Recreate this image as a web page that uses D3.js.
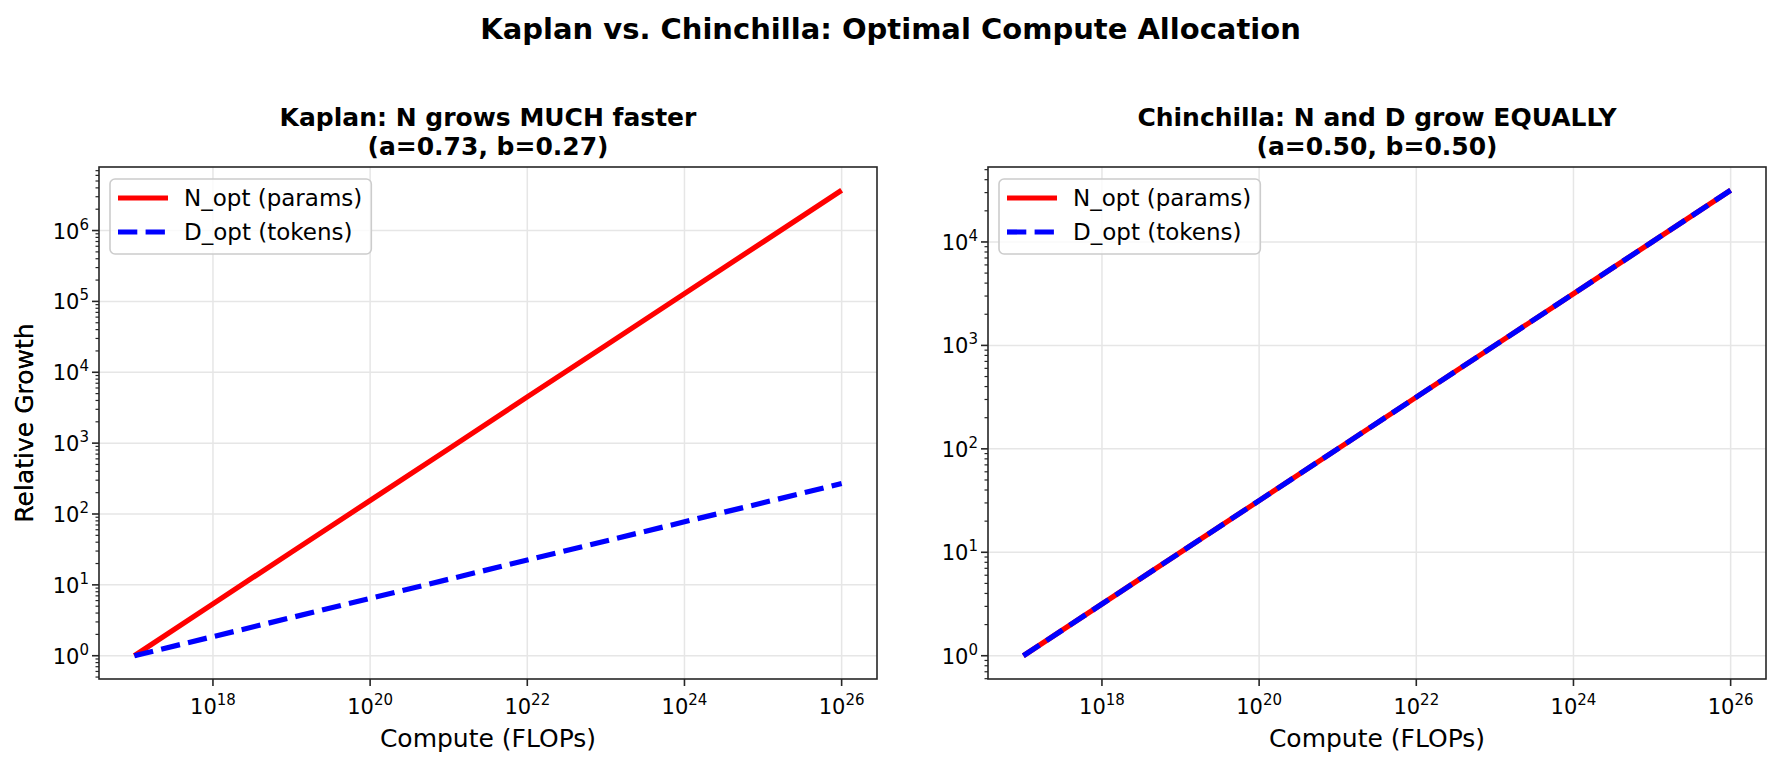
<!DOCTYPE html>
<html><head><meta charset="utf-8">
<script src="https://cdn.jsdelivr.net/npm/d3@7"></script>
<style>body{margin:0;background:#fff}svg{font-family:"DejaVu Sans",sans-serif}</style>
</head><body>
<svg id="c" width="1781" height="766"></svg>
<script>
// Data
const compute = [1e17,1e18,1e19,1e20,1e21,1e22,1e23,1e24,1e25,1e26];
const kaplanN = [1,5.4,29,155,830,4500,24000,129000,690000,3.7e6];
const kaplanD = [1,1.86,3.46,6.45,12,22.4,41.7,77.6,144,269];
const chinN = [1,3.16,10,31.6,100,316,1000,3160,10000,31600];
const chinD = [1,3.16,10,31.6,100,316,1000,3160,10000,31600];
const xTickExps = [18,20,22,24,26];
const legendLabels = ["N_opt (params)","D_opt (tokens)"];
const suptitle = "Kaplan vs. Chinchilla: Optimal Compute Allocation";
const panels = [
  {title:["Kaplan: N grows MUCH faster","(a=0.73, b=0.27)"], N:kaplanN, D:kaplanD, yExps:[0,1,2,3,4,5,6], left:99},
  {title:["Chinchilla: N and D grow EQUALLY","(a=0.50, b=0.50)"], N:chinN, D:chinD, yExps:[0,1,2,3,4], left:988}
];

const svg = d3.select("#c");
svg.append("text").attr("x",890.5).attr("y",39).attr("text-anchor","middle")
  .attr("font-size",29).attr("font-weight","bold").text(suptitle);

const W = 778, plotTop = 167, H = 512;

function logDomain(vals){
  const lo = Math.log10(d3.min(vals)), hi = Math.log10(d3.max(vals));
  const m = (hi-lo)*0.05;
  return [Math.pow(10,lo-m), Math.pow(10,hi+m)];
}

panels.forEach(p=>{
  const g = svg.append("g").attr("transform",`translate(${p.left},${plotTop})`);
  const x = d3.scaleLog().domain(logDomain(compute)).range([0,W]);
  const y = d3.scaleLog().domain(logDomain(p.N.concat(p.D))).range([H,0]);

  // grid
  const gridC = "#e6e6e6";
  xTickExps.forEach(e=>{
    g.append("line").attr("x1",x(Math.pow(10,e))).attr("x2",x(Math.pow(10,e)))
     .attr("y1",0).attr("y2",H).attr("stroke",gridC).attr("stroke-width",1.5);
  });
  p.yExps.forEach(e=>{
    g.append("line").attr("y1",y(Math.pow(10,e))).attr("y2",y(Math.pow(10,e)))
     .attr("x1",0).attr("x2",W).attr("stroke",gridC).attr("stroke-width",1.5);
  });

  const line = d3.line().x((d,i)=>x(compute[i])).y(d=>y(d));
  g.append("path").datum(p.N).attr("d",line).attr("fill","none")
   .attr("stroke","#ff0000").attr("stroke-width",5.2);
  g.append("path").datum(p.D).attr("d",line).attr("fill","none")
   .attr("stroke","#0000ff").attr("stroke-width",5.2).attr("stroke-dasharray","19.3,8.3");

  // frame
  g.append("rect").attr("x",0).attr("y",0).attr("width",W).attr("height",H)
   .attr("fill","none").attr("stroke","#262626").attr("stroke-width",1.6);

  // x ticks
  xTickExps.forEach(e=>{
    const xx = x(Math.pow(10,e));
    g.append("line").attr("x1",xx).attr("x2",xx).attr("y1",H).attr("y2",H+7)
     .attr("stroke","#262626").attr("stroke-width",1.6);
    const t = g.append("text").attr("x",xx).attr("y",H+35).attr("text-anchor","middle").attr("font-size",21);
    t.append("tspan").text("10");
    t.append("tspan").attr("dy",-9).attr("font-size",15).text(String(e));
  });
  // y major ticks
  p.yExps.forEach(e=>{
    const yy = y(Math.pow(10,e));
    g.append("line").attr("x1",-7).attr("x2",0).attr("y1",yy).attr("y2",yy)
     .attr("stroke","#262626").attr("stroke-width",1.6);
    const t = g.append("text").attr("x",-10).attr("y",yy+8).attr("text-anchor","end").attr("font-size",21);
    t.append("tspan").text("10");
    t.append("tspan").attr("dy",-9).attr("font-size",15).text(String(e));
  });
  // y minor ticks
  const [d0,d1] = y.domain();
  for(let e=Math.floor(Math.log10(d0)); e<=Math.ceil(Math.log10(d1)); e++){
    for(let k=2;k<=9;k++){
      const v = k*Math.pow(10,e);
      if(v<d0||v>d1) continue;
      g.append("line").attr("x1",-3.5).attr("x2",0).attr("y1",y(v)).attr("y2",y(v))
       .attr("stroke","#262626").attr("stroke-width",1.2);
    }
  }

  // titles
  g.append("text").attr("x",W/2).attr("y",-41).attr("text-anchor","middle")
   .attr("font-size",25).attr("font-weight","bold").text(p.title[0]);
  g.append("text").attr("x",W/2).attr("y",-12).attr("text-anchor","middle")
   .attr("font-size",25).attr("font-weight","bold").text(p.title[1]);
  // axis labels
  g.append("text").attr("x",W/2).attr("y",H+68).attr("text-anchor","middle")
   .attr("font-size",25).text("Compute (FLOPs)");
  g.append("text").attr("transform",`translate(${-p.left+33},${H/2}) rotate(-90)`)
   .attr("text-anchor","middle").attr("font-size",25).text("Relative Growth");

  // legend
  const lg = g.append("g").attr("transform","translate(11,12)");
  const box = lg.append("rect").attr("rx",5).attr("ry",5).attr("fill","#fff").attr("fill-opacity",0.8)
   .attr("stroke","#cccccc").attr("stroke-width",1.6);
  let maxW = 0;
  legendLabels.forEach((lab,i)=>{
    const cy = 19 + i*34;
    const ln = lg.append("line").attr("x1",8).attr("x2",58).attr("y1",cy).attr("y2",cy)
      .attr("stroke-width",5.2).attr("stroke", i===0?"#ff0000":"#0000ff");
    if(i===1) ln.attr("stroke-dasharray","19.3,8.3");
    const t = lg.append("text").attr("x",74).attr("y",cy+8).attr("font-size",23).text(lab);
    maxW = Math.max(maxW, t.node().getComputedTextLength());
  });
  box.attr("x",0).attr("y",0).attr("width",74+maxW+9).attr("height",75);
});
</script>
</body></html>
